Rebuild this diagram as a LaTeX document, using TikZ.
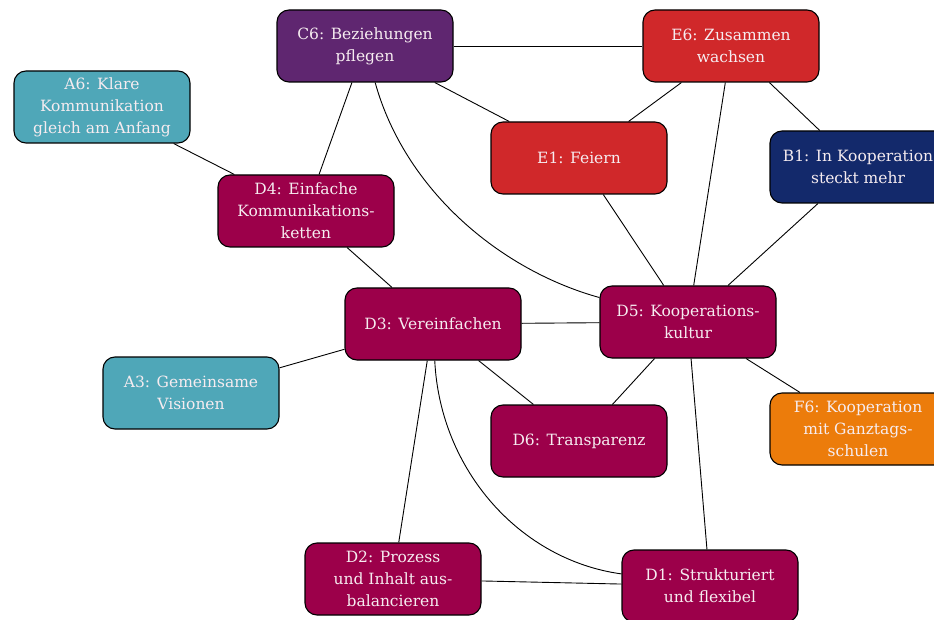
\documentclass[tikz,border=0pt]{standalone}
\usepackage{fontspec}
\setmainfont{DejaVu Serif}
\begin{document}
\begin{tikzpicture}[x=1pt,y=-1pt,
  card/.style={draw=black, line width=1.1pt, rounded corners=12pt,
    minimum width=176pt, minimum height=72pt, align=center,
    text=textwhite, font=\fontsize{15.5}{22}\selectfont, inner sep=2pt},
  cardD/.style={card, fill=dcol},
  cardE/.style={card, fill=ecol},
  cardC/.style={card, fill=ccol},
  cardA/.style={card, fill=acol},
  cardB/.style={card, fill=bcol},
  cardF/.style={card, fill=fcol},
  link/.style={draw=black, line width=0.9pt}
]
\definecolor{dcol}{HTML}{9C004A}
\definecolor{ecol}{HTML}{D0282A}
\definecolor{ccol}{HTML}{5F2670}
\definecolor{acol}{HTML}{4FA7B8}
\definecolor{bcol}{HTML}{13296B}
\definecolor{fcol}{HTML}{EC7C0B}
\definecolor{textwhite}{HTML}{F6ECF0}

\useasboundingbox (0,0) rectangle (934,620);
\clip (0,0) rectangle (934,620);

% cards
\node[cardC] (c6) at (365,46)  {C6: Beziehungen\\pflegen};
\node[cardE] (e6) at (731,46)  {E6: Zusammen\\wachsen};
\node[cardA] (a6) at (102,107) {A6: Klare\\Kommunikation\\gleich am Anfang};
\node[cardE] (e1) at (579,158) {E1: Feiern};
\node[cardB] (b1) at (858,167) {B1: In Kooperation\\steckt mehr};
\node[cardD] (d4) at (306,211) {D4: Einfache\\Kommunikations-\\ketten};
\node[cardD] (d3) at (433,324) {D3: Vereinfachen};
\node[cardD] (d5) at (688,322) {D5: Kooperations-\\kultur};
\node[cardA] (a3) at (191,393) {A3: Gemeinsame\\Visionen};
\node[cardD] (d6) at (579,441) {D6: Transparenz};
\node[cardF] (f6) at (858,429) {F6: Kooperation\\mit Ganztags-\\schulen};
\node[cardD] (d2) at (393,579) {D2: Prozess\\und Inhalt aus-\\balancieren};
\node[cardD] (d1) at (710,586) {D1: Strukturiert\\und flexibel};

% straight connectors
\draw[link] (c6) -- (e6);
\draw[link] (c6) -- (e1);
\draw[link] (c6) -- (d4);
\draw[link] (e6) -- (e1);
\draw[link] (e6) -- (d5);
\draw[link] (e6) -- (b1);
\draw[link] (a6) -- (d4);
\draw[link] (e1) -- (d5);
\draw[link] (b1) -- (d5);
\draw[link] (d4) -- (d3);
\draw[link] (d3) -- (d5);
\draw[link] (d3) -- (a3);
\draw[link] (d3) -- (d6);
\draw[link] (d3) -- (d2);
\draw[link] (d5) -- (d6);
\draw[link] (d5) -- (d1);
\draw[link] (d5) -- (f6);
\draw[link] (d2) -- (d1);

% curved connectors
\draw[link] (c6) .. controls (405,190) and (500,270) .. (d5);
\draw[link] (d3) .. controls (440,470) and (520,560) .. (d1);
\end{tikzpicture}
\end{document}
